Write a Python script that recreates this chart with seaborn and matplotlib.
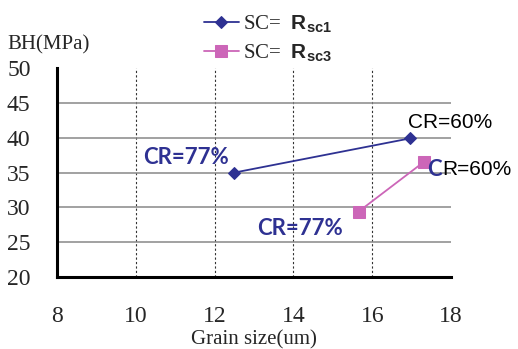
import matplotlib
matplotlib.use("Agg")
import matplotlib.pyplot as plt
import seaborn as sns
import pandas as pd

# data
grain_sc1 = [12.5, 16.95]
bh_sc1 = [35.0, 39.9]
grain_sc3 = [15.65, 17.3]
bh_sc3 = [29.4, 36.5]
x_ticks = [8, 10, 12, 14, 16, 18]
y_ticks = [20, 25, 30, 35, 40, 45, 50]

sns.set_style("white")
plt.rcParams["font.family"] = ["Liberation Serif", "DejaVu Serif"]
plt.rcParams["mathtext.fontset"] = "custom"
plt.rcParams["mathtext.bf"] = "Liberation Sans:bold"
plt.rcParams["mathtext.rm"] = "Liberation Sans"

blue = "#2e3192"
pink = "#cc66b8"

fig = plt.figure(figsize=(5.18, 3.49), dpi=100)
ax = fig.add_axes([0.110, 0.206, 0.761, 0.599])

df1 = pd.DataFrame({"grain": grain_sc1, "bh": bh_sc1})
df3 = pd.DataFrame({"grain": grain_sc3, "bh": bh_sc3})
sns.lineplot(data=df1, x="grain", y="bh", ax=ax, color=blue, marker="D",
             markersize=6, markeredgecolor=blue, linewidth=1.3,
             label=r"SC=  $\mathbf{R_{sc1}}$")
sns.lineplot(data=df3, x="grain", y="bh", ax=ax, color=pink, marker="s",
             markersize=8, markeredgecolor=pink, linewidth=1.3,
             label=r"SC=  $\mathbf{R_{sc3}}$")

ax.set_xlim(8, 18)
ax.set_ylim(20, 50)
ax.set_xticks(x_ticks)
ax.set_yticks(y_ticks)
ax.tick_params(axis="both", length=0, labelsize=17)
ax.tick_params(axis="y", pad=19)
ax.tick_params(axis="x", pad=21)

ax.grid(axis="y", color="#888888", linewidth=1.1, linestyle="-")
ax.grid(axis="x", color="#333333", linewidth=0.8, linestyle=(0, (2, 2)))
for gl in [ax.yaxis.get_gridlines()[-1], ax.xaxis.get_gridlines()[-1]]:
    gl.set_visible(False)

for side in ["top", "right"]:
    ax.spines[side].set_visible(False)
for side in ["left", "bottom"]:
    ax.spines[side].set_color("black")
    ax.spines[side].set_linewidth(2.2)

ax.set_ylabel("BH(MPa)", rotation=0, fontsize=15, ha="left", va="center")
ax.yaxis.set_label_coords(-0.125, 1.11)
ax.set_xlabel("Grain size(um)", fontsize=15, va="center")
ax.xaxis.set_label_coords(0.50, -0.30)

ax.legend(loc="upper center", bbox_to_anchor=(0.535, 1.30), frameon=False,
          fontsize=15, handlelength=1.7, handletextpad=0.2, labelspacing=0.35,
          borderaxespad=0)

lab = dict(family=["Lato", "DejaVu Sans"], fontweight="bold", color=blue, fontsize=16)
ax.text(11.28, 37.1, "CR=77%", ha="center", va="center", **lab)
ax.text(14.17, 27.0, "CR=77%", ha="center", va="center", **lab)
ax.text(16.9, 40.8, "CR=60%", ha="left", va="bottom", color="black",
        fontsize=15, family=["Liberation Sans"], clip_on=False)
c_txt = ax.text(17.4, 35.4, "C", ha="left", va="center", clip_on=False, **lab)
ax.annotate("R=60%", xy=(1, 0.5), xycoords=c_txt, va="center", ha="left",
            color="black", fontsize=15, family=["Liberation Sans"],
            annotation_clip=False)

fig.savefig("out.png", dpi=100, facecolor="white")
